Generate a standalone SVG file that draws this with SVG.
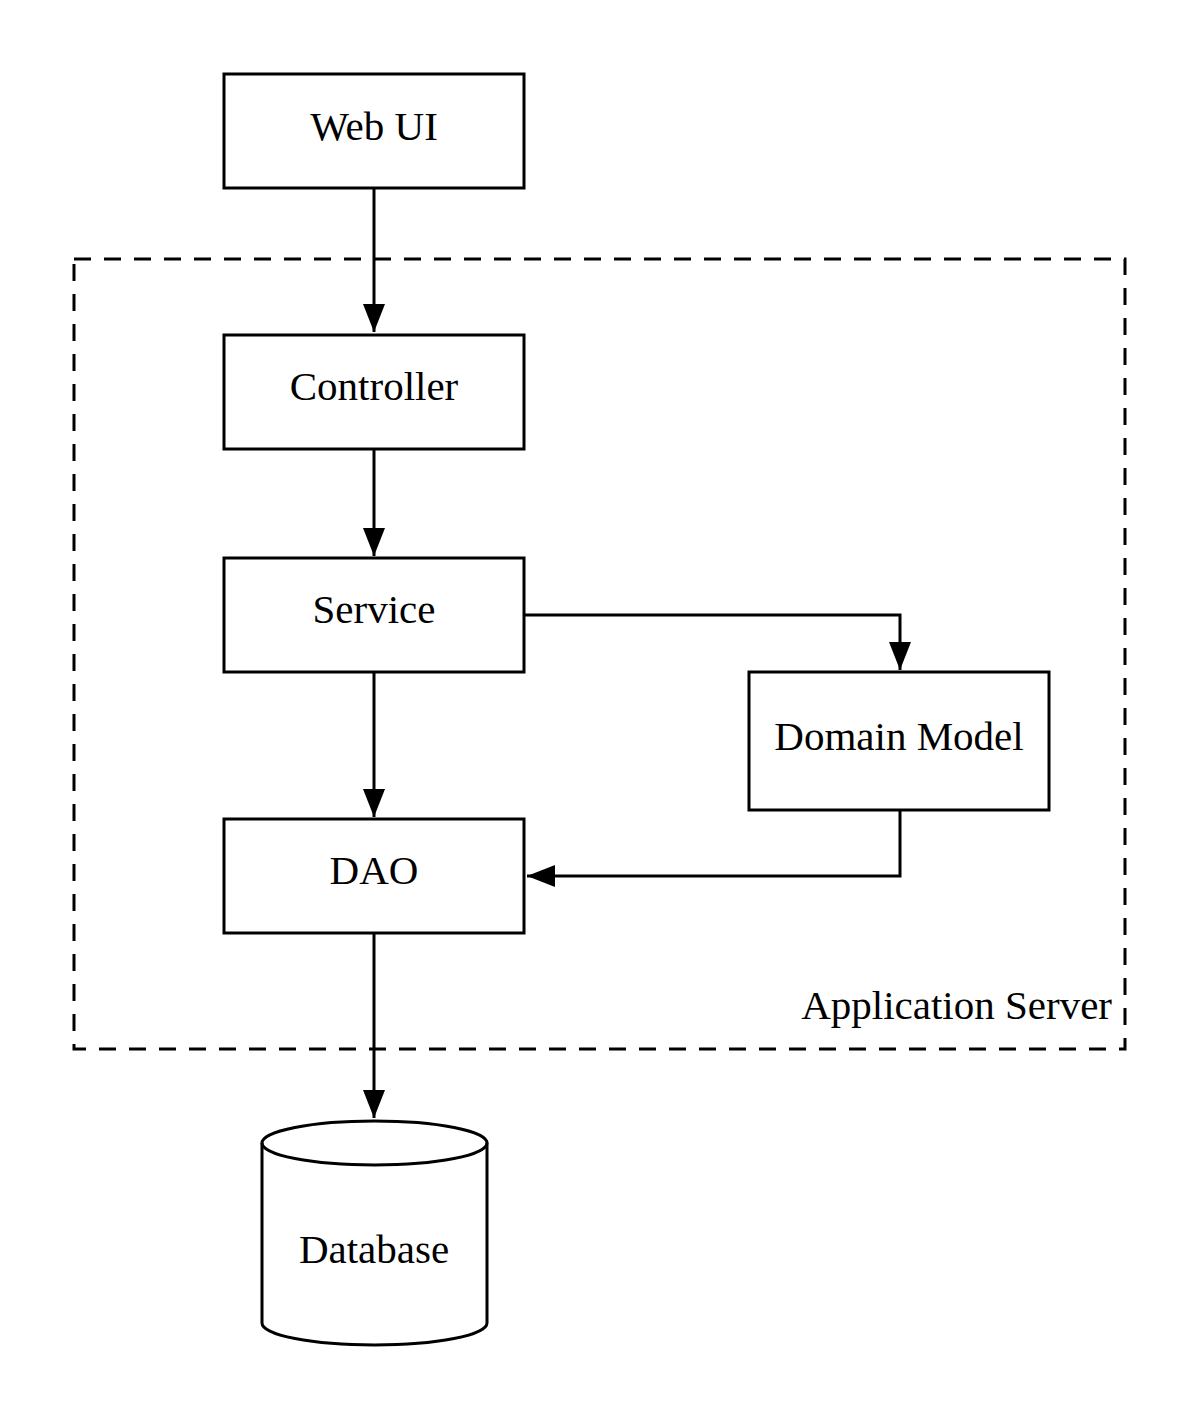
<svg xmlns="http://www.w3.org/2000/svg" width="1200" height="1421" viewBox="0 0 1200 1421">
<defs>
<style>
.box{fill:#fff;stroke:#000;stroke-width:3}
.edge{fill:none;stroke:#000;stroke-width:3}
text{font-family:"Liberation Serif","Times New Roman",serif;font-size:41px;fill:#000;text-anchor:middle;dominant-baseline:central}
</style>
<marker id="ah" viewBox="0 0 28 22" refX="28" refY="11" markerWidth="28" markerHeight="22" orient="auto" markerUnits="userSpaceOnUse">
<path d="M0,0 L28,11 L0,22 Z" fill="#000"/>
</marker>
</defs>
<rect width="1200" height="1421" fill="#fff"/>
<g id="cluster-appserver">
<rect x="74" y="259" width="1051" height="790" fill="none" stroke="#000" stroke-width="3" stroke-dasharray="17,13"/>
<text x="1112" y="1005" style="text-anchor:end">Application Server</text>
</g>
<g id="connectors">
<path class="edge" d="M374,188 L374,332" marker-end="url(#ah)"/>
<path class="edge" d="M374,449 L374,556" marker-end="url(#ah)"/>
<path class="edge" d="M524,615 L900,615 L900,670" marker-end="url(#ah)"/>
<path class="edge" d="M374,672 L374,817" marker-end="url(#ah)"/>
<path class="edge" d="M900,810 L900,876 L527,876" marker-end="url(#ah)"/>
<path class="edge" d="M374,933 L374,1118" marker-end="url(#ah)"/>
</g>
<g id="webui">
<rect class="box" x="224" y="74" width="300" height="114"/>
<text x="374" y="126">Web UI</text>
</g>
<g id="controller">
<rect class="box" x="224" y="335" width="300" height="114"/>
<text x="374" y="386">Controller</text>
</g>
<g id="service">
<rect class="box" x="224" y="558" width="300" height="114"/>
<text x="374" y="609">Service</text>
</g>
<g id="domainmodel">
<rect class="box" x="749" y="672" width="300" height="138"/>
<text x="899" y="736">Domain Model</text>
</g>
<g id="dao">
<rect class="box" x="224" y="819" width="300" height="114"/>
<text x="374" y="870">DAO</text>
</g>
<g id="database">
<path class="box" d="M262,1143 L262,1323 A112.5,22 0 0 0 487,1323 L487,1143 A112.5,22 0 0 0 262,1143 Z"/>
<path class="edge" d="M262,1143 A112.5,22 0 0 0 487,1143"/>
<text x="374" y="1249">Database</text>
</g>
</svg>
